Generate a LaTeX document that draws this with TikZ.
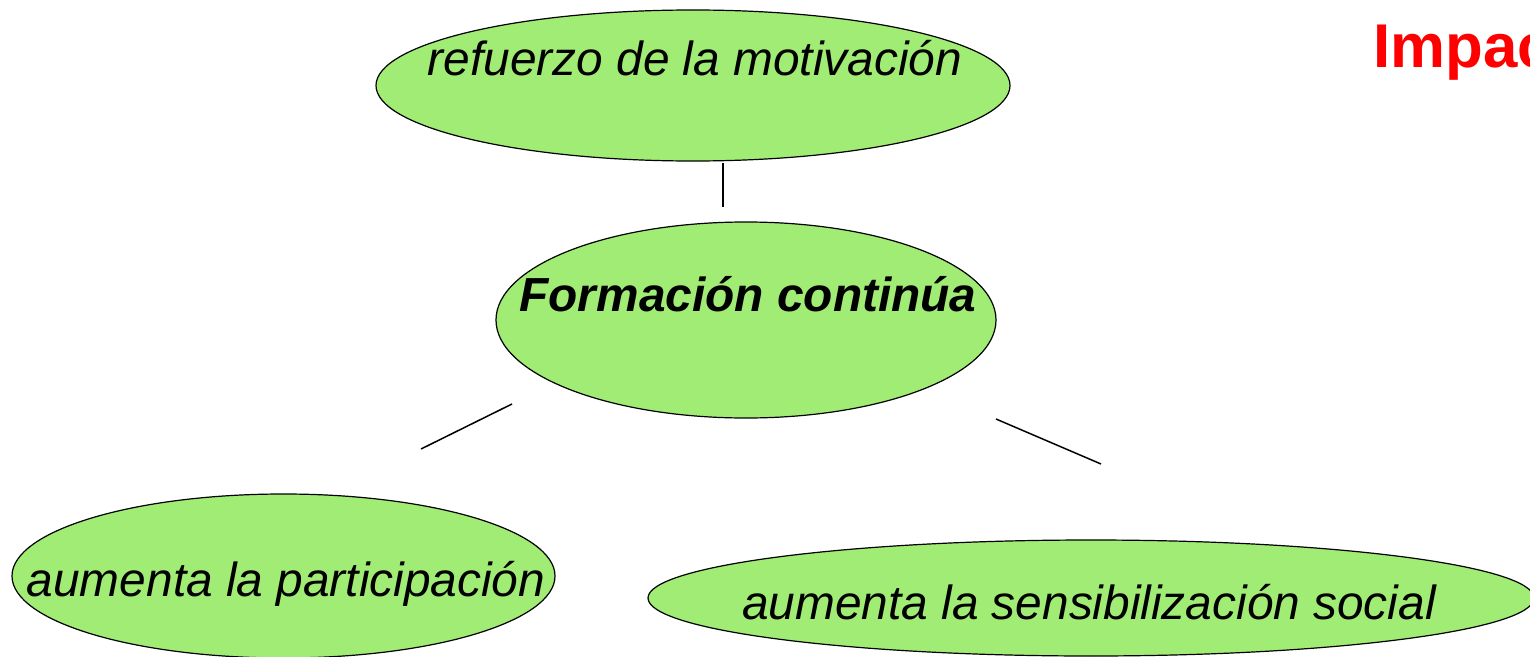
\documentclass[tikz,border=0pt]{standalone}
\usepackage{fontspec}
\setmainfont{Liberation Sans}
\usetikzlibrary{shapes.geometric}
\definecolor{leafgreen}{RGB}{160,236,116}
\definecolor{titlered}{RGB}{255,0,0}

\begin{document}
\begin{tikzpicture}[x=1bp,y=-1bp,
  bubble/.style={ellipse,draw=black,line width=1.2bp,fill=leafgreen,inner sep=0pt},
  label/.style={anchor=base,inner sep=0pt,font=\fontsize{48}{50}\selectfont\itshape},
  link/.style={line width=1.5bp}]
\clip (0,0) rectangle (1530,657);

% ellipses
\node[bubble,minimum width=634bp,minimum height=151bp] (motiv) at (693,85.5) {};
\node[bubble,minimum width=500bp,minimum height=196bp] (forma) at (746,320) {};
\node[bubble,minimum width=543bp,minimum height=164bp] (partic) at (283.5,576) {};
\node[bubble,minimum width=886bp,minimum height=116bp] (sensib) at (1091,598) {};

% texts
\node[label] (motivtxt) at (695,76) {refuerzo de la motivación};
\node[label,font=\fontsize{48}{50}\selectfont\bfseries\itshape] (formatxt) at (748,311) {Formación continúa};
\node[label] (partictxt) at (286,596) {aumenta la participación};
\node[label] (sensibtxt) at (1089,619) {aumenta la sensibilización social};
\node[anchor=base west,inner sep=0pt,text=titlered,font=\fontsize{62}{64}\selectfont\bfseries] (impact) at (1373,68) {Impac};

% connectors
\coordinate (a1) at (723,163);
\coordinate (a2) at (723,207);
\coordinate (b1) at (512,404);
\coordinate (b2) at (421,449);
\coordinate (c1) at (996,419);
\coordinate (c2) at (1101,464);
\draw[link] (a1) -- (a2);
\draw[link] (b1) -- (b2);
\draw[link] (c1) -- (c2);
\end{tikzpicture}
\end{document}
